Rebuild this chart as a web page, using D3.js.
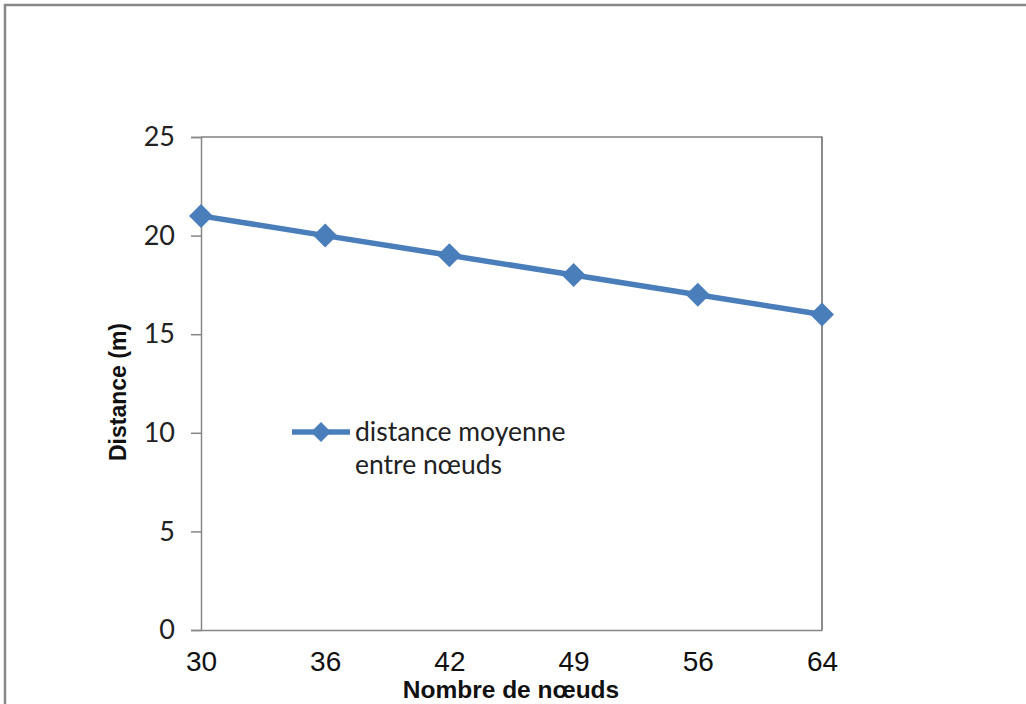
<!DOCTYPE html>
<html><head><meta charset="utf-8">
<script src="https://cdn.jsdelivr.net/npm/d3@7"></script>
<style>body{margin:0;background:#fff;}svg{display:block;}</style>
</head><body>
<svg id="chart" width="1026" height="704"></svg>
<script>
const categories = ["30","36","42","49","56","64"];
const values = [21,20,19,18,17,16];
const yTicks = [0,5,10,15,20,25];
const seriesName = ["distance moyenne","entre nœuds"];
const xTitle = "Nombre de nœuds";
const yTitle = "Distance (m)";

const svg = d3.select("#chart");
const color = "#4a7ebb";
const pL=201, pR=822, pT=137, pB=630;

// outer frame
svg.append("rect").attr("x",5).attr("y",5).attr("width",1030).attr("height",720)
  .attr("fill","none").attr("stroke","#888").attr("stroke-width",2.5);

const x = d3.scalePoint().domain(categories).range([pL,pR]).padding(0);
const y = d3.scaleLinear().domain([0,25]).range([pB,pT]);

// plot frame top/right
svg.append("path").attr("d",`M${pL},${pT}H${pR}V${pB}`)
  .attr("fill","none").attr("stroke","#404040").attr("stroke-width",1.2);

const yAxis = svg.append("g").attr("transform",`translate(${pL},0)`)
  .call(d3.axisLeft(y).tickValues(yTicks).tickSize(10).tickPadding(16).tickFormat(d3.format("d")));
yAxis.select(".domain").attr("stroke","#868686").attr("stroke-width",1.5);
yAxis.selectAll(".tick line").attr("stroke","#868686").attr("stroke-width",1.5);
yAxis.selectAll(".tick text").style("font-family","Lato, 'Open Sans', sans-serif").style("font-size","27px").attr("fill","#222");

const xAxis = svg.append("g").attr("transform",`translate(0,${pB})`)
  .call(d3.axisBottom(x).tickSize(0).tickPadding(21));
xAxis.select(".domain").attr("stroke","#868686").attr("stroke-width",1.5);
xAxis.selectAll(".tick text").style("font-family","'Liberation Sans', Arial, sans-serif").style("font-size","28px").attr("fill","#111");

const line = d3.line().x((d,i)=>x(categories[i])).y(d=>y(d));
svg.append("path").datum(values).attr("d",line).attr("fill","none")
  .attr("stroke",color).attr("stroke-width",5.5);

const diamond = s => `M0,${-s}L${s},0L0,${s}L${-s},0Z`;
svg.selectAll(".pt").data(values).enter().append("path")
  .attr("transform",(d,i)=>`translate(${x(categories[i])},${y(d)})`)
  .attr("d",diamond(12)).attr("fill",color);

// legend
const lg = svg.append("g");
lg.append("line").attr("x1",292).attr("x2",350).attr("y1",432).attr("y2",432)
  .attr("stroke",color).attr("stroke-width",5.5);
lg.append("path").attr("transform","translate(321,432)").attr("d",diamond(10)).attr("fill",color);
lg.selectAll("text").data(seriesName).enter().append("text")
  .attr("x",355).attr("y",(d,i)=>441+i*33)
  .attr("font-family","Lato, 'Open Sans', sans-serif").attr("font-size",26.5).attr("fill","#222")
  .text(d=>d);

// titles
svg.append("text").attr("x",511).attr("y",698).attr("text-anchor","middle")
  .attr("font-family","'Liberation Sans Narrow','Arial Narrow','Liberation Sans',sans-serif")
  .attr("font-weight","bold").attr("font-size",24.5).attr("fill","#111").text(xTitle);
svg.append("text").attr("transform","translate(126,392) rotate(-90)").attr("text-anchor","middle")
  .attr("font-family","'Liberation Sans Narrow','Arial Narrow','Liberation Sans',sans-serif")
  .attr("font-weight","bold").attr("font-size",23).attr("fill","#111").text(yTitle);
</script>
</body></html>
